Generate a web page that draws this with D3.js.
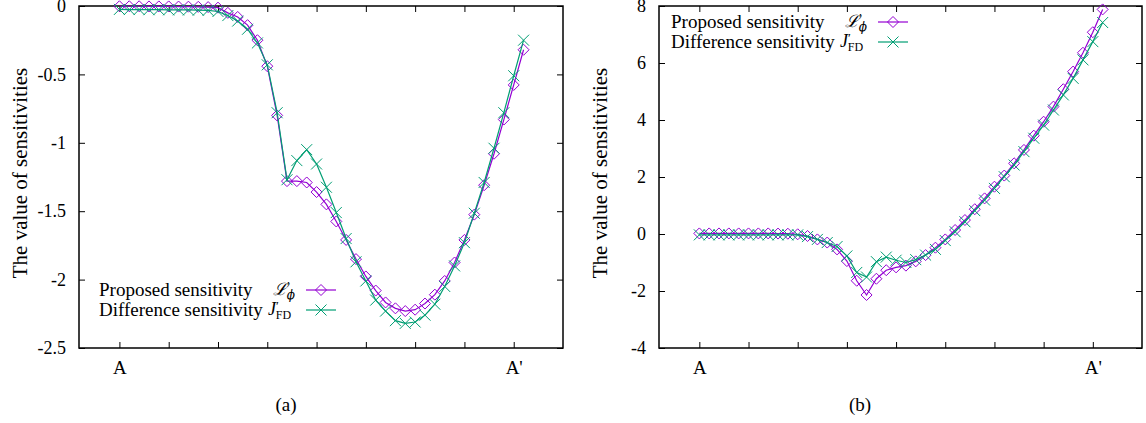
<!DOCTYPE html>
<html>
<head>
  <meta charset="utf-8">
  <title>Sensitivities along A - A'</title>
  <script src="https://d3js.org/d3.v7.min.js"></script>
  <style>
    body { margin: 0; background: #fff; }
    svg { display: block; }
    text { font-family: "Liberation Serif", "Times New Roman", "DejaVu Serif", serif; fill: #000; }
    .axis path, .axis line { stroke: #000; }
    .math { font-family: "DejaVu Serif", "Liberation Serif", serif; font-style: italic; }
  </style>
</head>
<body>
<svg width="1146" height="423"></svg>
<script>
// Sample stations along the line A - A' (A = 0, A' = 8)
const stations = [0, 0.2, 0.4, 0.6, 0.8, 1, 1.2, 1.4, 1.6, 1.8,
  2, 2.2, 2.4, 2.6, 2.8, 3, 3.2, 3.4, 3.6, 3.8,
  4, 4.2, 4.4, 4.6, 4.8, 5, 5.2, 5.4, 5.6, 5.8,
  6, 6.2, 6.4, 6.6, 6.8, 7, 7.2, 7.4, 7.6, 7.8,
  8, 8.2];

// (a) proposed and finite difference sensitivities
const proposedA = [-0.002, -0.002, -0.002, -0.003, -0.003, -0.003, -0.004, -0.005, -0.006, -0.008,
  -0.012, -0.05, -0.08, -0.14, -0.25, -0.44, -0.80, -1.28, -1.28, -1.29,
  -1.36, -1.45, -1.575, -1.71, -1.85, -1.977, -2.08, -2.167, -2.21, -2.23,
  -2.22, -2.175, -2.11, -2.01, -1.875, -1.71, -1.525, -1.31, -1.08, -0.83,
  -0.577, -0.32];
const differenceA = [-0.025, -0.026, -0.026, -0.027, -0.027, -0.028, -0.028, -0.029, -0.03, -0.032,
  -0.04, -0.07, -0.11, -0.17, -0.27, -0.43, -0.78, -1.27, -1.13, -1.05,
  -1.155, -1.325, -1.51, -1.70, -1.87, -2.01, -2.15, -2.23, -2.30, -2.32,
  -2.31, -2.26, -2.18, -2.05, -1.90, -1.73, -1.515, -1.29, -1.04, -0.78,
  -0.51, -0.25];

// (b)
const proposedB = [0.02, 0.02, 0.02, 0.02, 0.02, 0.02, 0.02, 0.02, 0.015, 0.01,
  -0.01, -0.07, -0.19, -0.30, -0.54, -0.95, -1.64, -2.14, -1.57, -1.27,
  -1.17, -1.11, -0.96, -0.74, -0.48, -0.19, 0.14, 0.49, 0.87, 1.25,
  1.66, 2.05, 2.48, 2.95, 3.45, 3.94, 4.47, 5.08, 5.70, 6.36,
  7.08, 7.88];
const differenceB = [-0.03, -0.03, -0.03, -0.03, -0.03, -0.03, -0.03, -0.03, -0.03, -0.03,
  -0.03, -0.09, -0.19, -0.30, -0.44, -0.77, -1.35, -1.51, -0.97, -0.81,
  -0.92, -1.0, -0.90, -0.74, -0.54, -0.23, 0.08, 0.43, 0.82, 1.19,
  1.60, 2.01, 2.42, 2.89, 3.36, 3.82, 4.35, 4.88, 5.46, 6.11,
  6.75, 7.42];

const xTicks = [0, 1, 2, 3, 4, 5, 6, 7, 8];
const xTickLabels = {0: "A", 8: "A'"};
const yTicksA = [0, -0.5, -1, -1.5, -2, -2.5];
const yTicksB = [8, 6, 4, 2, 0, -2, -4];

const purple = "#9400d3", green = "#009e73";

const svg = d3.select("svg");

const panels = [
  { left: 79, right: 563, top: 6, bottom: 348, yDomain: [-2.5, 0], yTicks: yTicksA,
    proposed: proposedA, difference: differenceA,
    legendX: 99, legendY: 290, caption: "(a)", captionX: 286, labelX: 20 },
  { left: 659, right: 1142, top: 6, bottom: 348, yDomain: [-4, 8], yTicks: yTicksB,
    proposed: proposedB, difference: differenceB,
    legendX: 671, legendY: 22, caption: "(b)", captionX: 860, labelX: 600 }
];

function diamond(g, color) {
  g.append("path").attr("d", "M0,-5.5L5.5,0L0,5.5L-5.5,0Z")
    .attr("fill", "none").attr("stroke", color).attr("stroke-width", 1);
}
function cross(g, color) {
  g.append("path").attr("d", "M-5.5,-5.5L5.5,5.5M-5.5,5.5L5.5,-5.5")
    .attr("fill", "none").attr("stroke", color).attr("stroke-width", 1);
}

panels.forEach(p => {
  const x = d3.scaleLinear().domain([-0.82, 9]).range([p.left, p.right]);
  const y = d3.scaleLinear().domain(p.yDomain).range([p.bottom, p.top]);
  const g = svg.append("g");

  // axes (ticks pointing inward, mirrored on top / right)
  g.append("g").attr("class", "axis").attr("transform", `translate(0,${p.bottom})`)
    .call(d3.axisBottom(x).tickValues(xTicks).tickSize(-6).tickPadding(10)
      .tickFormat(d => xTickLabels[d] || ""))
    .call(a => a.select(".domain").remove())
    .selectAll("text").attr("font-size", 19).attr("dy", "0.85em");
  g.append("g").attr("class", "axis").attr("transform", `translate(0,${p.top})`)
    .call(d3.axisTop(x).tickValues(xTicks).tickSize(-6).tickFormat(""))
    .call(a => a.select(".domain").remove());
  g.append("g").attr("class", "axis").attr("transform", `translate(${p.left},0)`)
    .call(d3.axisLeft(y).tickValues(p.yTicks).tickSize(-6).tickPadding(13)
      .tickFormat(d => String(d)))
    .call(a => a.select(".domain").remove())
    .selectAll("text").attr("font-size", 18);
  g.append("g").attr("class", "axis").attr("transform", `translate(${p.right},0)`)
    .call(d3.axisRight(y).tickValues(p.yTicks).tickSize(-6).tickFormat(""))
    .call(a => a.select(".domain").remove());
  g.selectAll(".axis").attr("font-family", null);

  g.append("rect").attr("x", p.left).attr("y", p.top)
    .attr("width", p.right - p.left).attr("height", p.bottom - p.top)
    .attr("fill", "none").attr("stroke", "#000").attr("stroke-width", 1.5);

  // y label
  g.append("text")
    .attr("transform", `translate(${p.labelX},${(p.top + p.bottom) / 2 - 4}) rotate(-90)`)
    .attr("text-anchor", "middle").attr("dy", "0.35em")
    .attr("font-size", 21).text("The value of sensitivities");

  // series
  const line = d3.line().x((d, i) => x(stations[i])).y(d => y(d));
  [[p.proposed, purple, diamond], [p.difference, green, cross]].forEach(([vals, color, mark]) => {
    g.append("path").datum(vals).attr("d", line)
      .attr("fill", "none").attr("stroke", color).attr("stroke-width", 1.2);
    g.selectAll(null).data(vals).enter().append("g")
      .attr("transform", (d, i) => `translate(${x(stations[i])},${y(d)})`)
      .each(function () { mark(d3.select(this), color); });
  });

  // legend
  const lx = p.legendX, ly = p.legendY;
  const rows = [
    { text: "Proposed sensitivity", color: purple, mark: diamond, sym: "L" },
    { text: "Difference sensitivity", color: green, mark: cross, sym: "J" }
  ];
  rows.forEach((r, k) => {
    const cy = ly + k * 20;
    g.append("text").attr("x", lx).attr("y", cy + 6).attr("font-size", 19).text(r.text);
    if (r.sym === "L") {
      const t = g.append("text").attr("x", lx + 174).attr("y", cy + 5).attr("font-size", 17);
      t.append("tspan").attr("class", "math").text("\u2112");
      t.append("tspan").attr("font-size", 13).attr("dy", -5).text("\u2032");
      t.append("tspan").attr("class", "math").attr("font-size", 12).attr("dy", 9).attr("dx", -3).text("\u03d5");
    } else {
      const t = g.append("text").attr("x", lx + 169).attr("y", cy + 5).attr("font-size", 18);
      t.append("tspan").attr("font-style", "italic").text("J");
      t.append("tspan").attr("font-size", 13).attr("dy", -5).text("\u2032");
      t.append("tspan").attr("font-size", 12).attr("dy", 9).attr("dx", -3).text("FD");
    }
    g.append("line").attr("x1", lx + 207).attr("x2", lx + 237).attr("y1", cy).attr("y2", cy)
      .attr("stroke", r.color).attr("stroke-width", 1.2);
    const m = g.append("g").attr("transform", `translate(${lx + 222},${cy})`);
    r.mark(m, r.color);
  });

  // caption
  svg.append("text").attr("x", p.captionX).attr("y", 411).attr("text-anchor", "middle")
    .attr("font-size", 19).text(p.caption);
});
</script>
</body>
</html>
